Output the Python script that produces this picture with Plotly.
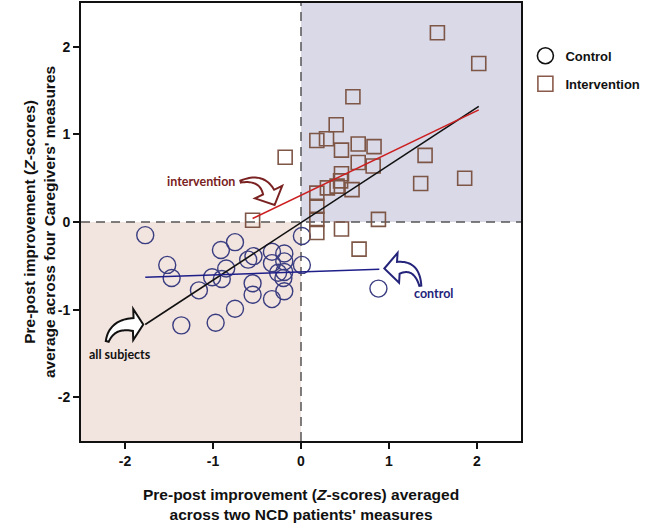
import numpy as np
import plotly.graph_objects as go

# ---------------- data ----------------
control_x = [-1.77, -1.52, -1.47, -1.36, -1.16, -1.01, -0.90, -0.97, -0.91, -0.85,
             -0.75, -0.75, -0.60, -0.54, -0.55, -0.55, -0.33, -0.33, -0.33, -0.19,
             -0.19, -0.19, -0.20, -0.19, -0.26, 0.01, 0.01, 0.88]
control_y = [-0.15, -0.49, -0.64, -1.18, -0.78, -0.63, -0.65, -1.15, -0.32, -0.53,
             -0.23, -0.99, -0.43, -0.39, -0.70, -0.83, -0.34, -0.47, -0.88, -0.36,
             -0.45, -0.57, -0.64, -0.79, -0.58, -0.16, -0.49, -0.76]

interv_x = [-0.55, -0.18, 1.55, 2.02, 0.59, 0.40, 0.18, 0.29, 0.46, 0.65,
            0.83, 1.41, 0.65, 0.82, 0.46, 1.86, 1.36, 0.30, 0.41, 0.45,
            0.58, 0.18, 0.18, 0.18, 0.18, 0.88, 0.46, 0.66]
interv_y = [0.02, 0.74, 2.16, 1.81, 1.43, 1.11, 0.93, 0.95, 0.82, 0.89,
            0.86, 0.76, 0.68, 0.64, 0.55, 0.50, 0.44, 0.39, 0.41, 0.47,
            0.37, 0.33, 0.18, 0.03, -0.12, 0.03, -0.08, -0.31]

# fitted regression lines (end points)
fit_all_x = [-1.77, 2.02]
fit_all_y = [-1.17, 1.32]
fit_int_x = [-0.55, 2.02]
fit_int_y = [0.04, 1.28]
fit_ctl_x = [-1.77, 0.89]
fit_ctl_y = [-0.63, -0.54]

tick_vals = [-2, -1, 0, 1, 2]
tick_text = ["-2", "-1", "0", "1", "2"]
ax_min, ax_max = -2.5, 2.5

# ---------------- layout geometry ----------------
W, H = 650, 528
L, T, PW, PH = 81, 1, 440, 440

def d2p(x, y):
    return (L + (x - ax_min) / (ax_max - ax_min) * PW,
            T + (ax_max - y) / (ax_max - ax_min) * PH)

def p2d(px, py):
    return (ax_min + (px - L) / PW * (ax_max - ax_min),
            ax_max - (py - T) / PH * (ax_max - ax_min))

def curved_arrow(anchor, tip, base, ctrl, tail, half_head, w_base, w_tail, n=24):
    ax, ay = d2p(*anchor)
    P = lambda o: np.array([ax + o[0], ay + o[1]])
    tip, base, ctrl, tail = P(tip), P(base), P(ctrl), P(tail)
    ts = np.linspace(0, 1, n)
    pts = [(1 - t) ** 2 * tail + 2 * (1 - t) * t * ctrl + t ** 2 * base for t in ts]
    ders = [2 * (1 - t) * (ctrl - tail) + 2 * t * (base - ctrl) for t in ts]
    left, right = [], []
    for t, p, d in zip(ts, pts, ders):
        d = d / np.linalg.norm(d)
        nrm = np.array([-d[1], d[0]])
        w = (w_tail + (w_base - w_tail) * t) / 2
        left.append(p + nrm * w)
        right.append(p - nrm * w)
    hd = tip - base
    hd = hd / np.linalg.norm(hd)
    hn = np.array([-hd[1], hd[0]])
    poly = left + [base + hn * half_head, tip, base - hn * half_head] + right[::-1]
    dpts = [p2d(*q) for q in poly]
    return "M " + " L ".join(f"{x:.4f},{y:.4f}" for x, y in dpts) + " Z"

fig = go.Figure()

# legend-only entries
fig.add_trace(go.Scatter(x=[None], y=[None], mode="markers", name="Control",
                         legendgroup="c",
                         marker=dict(symbol="circle-open", size=16, color="#111111",
                                     line=dict(width=1.6))))
fig.add_trace(go.Scatter(x=[None], y=[None], mode="markers", name="Intervention",
                         legendgroup="i",
                         marker=dict(symbol="square-open", size=15, color="#8a5a4a",
                                     line=dict(width=1.6))))

fig.add_trace(go.Scatter(x=control_x, y=control_y, mode="markers", showlegend=False,
                         marker=dict(symbol="circle-open", size=17, color="#3a3d80",
                                     line=dict(width=1.4))))
fig.add_trace(go.Scatter(x=interv_x, y=interv_y, mode="markers", showlegend=False,
                         marker=dict(symbol="square-open", size=14, color="#7e5646",
                                     line=dict(width=1.6))))

fig.add_trace(go.Scatter(x=fit_all_x, y=fit_all_y, mode="lines", showlegend=False,
                         line=dict(color="#111111", width=1.6)))
fig.add_trace(go.Scatter(x=fit_int_x, y=fit_int_y, mode="lines", showlegend=False,
                         line=dict(color="#cc1f1f", width=1.6)))
fig.add_trace(go.Scatter(x=fit_ctl_x, y=fit_ctl_y, mode="lines", showlegend=False,
                         line=dict(color="#1f1f8a", width=1.6)))

shapes = [
    dict(type="rect", xref="x", yref="y", x0=ax_min, x1=0, y0=ax_min, y1=0,
         fillcolor="#f2e4df", line=dict(width=0), layer="below"),
    dict(type="rect", xref="x", yref="y", x0=0, x1=ax_max, y0=0, y1=ax_max,
         fillcolor="#d9d9e8", line=dict(width=0), layer="below"),
    dict(type="line", xref="x", yref="y", x0=0, x1=0, y0=ax_min, y1=ax_max,
         line=dict(color="#555555", width=1.5, dash="9px,6px"), layer="below"),
    dict(type="line", xref="x", yref="y", x0=ax_min, x1=ax_max, y0=0, y1=0,
         line=dict(color="#555555", width=1.5, dash="9px,6px"), layer="below"),
]

a_all = (fit_all_x[0], fit_all_y[0])
a_int = (fit_int_x[0], fit_int_y[0])
a_ctl = (fit_ctl_x[1], fit_ctl_y[1])

shapes.append(dict(type="path", xref="x", yref="y",
                   path=curved_arrow(a_all, (-2, 0), (-12, 0), (-33, -1), (-38, 17), 15.5, 13, 3),
                   fillcolor="white", line=dict(color="#111111", width=2)))
shapes.append(dict(type="path", xref="x", yref="y",
                   path=curved_arrow(a_int, (22, -13.5), (16, -26.5), (9, -43), (-12, -37), 15, 12, 2),
                   fillcolor="white", line=dict(color="#7a2222", width=2)))
shapes.append(dict(type="path", xref="x", yref="y",
                   path=curved_arrow(a_ctl, (5, -0.8), (19, -1.5), (37, -5.5), (41, 16.5), 15, 12, 2),
                   fillcolor="white", line=dict(color="#24247a", width=2)))

def ann_at(anchor, off, text, color):
    px, py = d2p(*anchor)
    x, y = p2d(px + off[0], py + off[1])
    return dict(x=x, y=y, xref="x", yref="y", text=text, showarrow=False,
                font=dict(family="Lato", size=12.5, color=color, weight="bold"))

annotations = [
    ann_at(a_int, (-51.7, -36.7), "intervention", "#7a2222"),
    ann_at(a_ctl, (53.7, 24.4), "control", "#24247a"),
    ann_at(a_all, (-25, 30.5), "all subjects", "#111111"),
    dict(x=0.5, y=-43 / PH, xref="paper", yref="paper", xanchor="center", yanchor="top",
         showarrow=False, align="center",
         text="Pre-post improvement (<i>Z</i>-scores) averaged<br>across two NCD patients' measures",
         font=dict(family="Liberation Sans", size=15.5, color="#111111", weight="bold")),
    dict(x=(39 - L) / PW, y=0.5, xref="paper", yref="paper", xanchor="center", yanchor="middle",
         showarrow=False, textangle=-90, align="center",
         text="Pre-post improvement (<i>Z</i>-scores)<br>average across four Caregivers' measures",
         font=dict(family="Liberation Sans", size=15.5, color="#111111", weight="bold")),
]

axis_common = dict(range=[ax_min, ax_max], tickmode="array", tickvals=tick_vals,
                   ticktext=tick_text, ticks="outside", ticklen=6, tickwidth=1.5,
                   tickcolor="#111111", showline=True, linewidth=2, linecolor="#111111",
                   mirror=True, showgrid=False, zeroline=False,
                   tickfont=dict(family="Liberation Sans", size=14, color="#111111",
                                 weight="bold"))

fig.update_layout(
    width=W, height=H, autosize=False,
    margin=dict(l=L, r=W - L - PW, t=T, b=H - T - PH, pad=0),
    plot_bgcolor="white", paper_bgcolor="white",
    xaxis=axis_common, yaxis=axis_common,
    shapes=shapes, annotations=annotations,
    legend=dict(x=1.01, y=1 - 38 / PH, xanchor="left", yanchor="top",
                tracegroupgap=8, itemsizing="trace", bgcolor="rgba(0,0,0,0)",
                font=dict(family="Liberation Sans", size=13, color="#111111", weight="bold")),
)

fig.write_html("out.html", config={"displayModeBar": False},
               post_script="document.body.style.margin='0px';document.body.style.overflow='hidden';")
